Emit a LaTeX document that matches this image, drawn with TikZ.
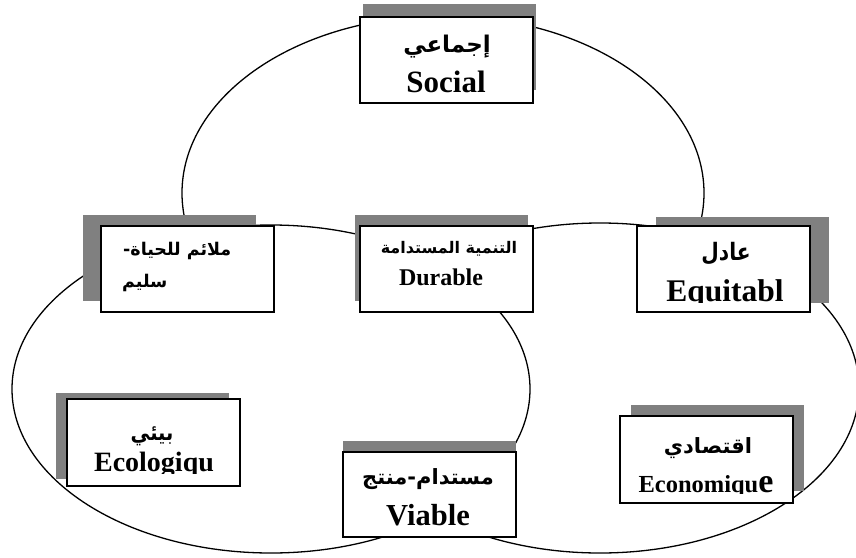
\documentclass[tikz,border=0pt]{standalone}
\usepackage{fontspec}
\setmainfont{Liberation Serif}
\newfontfamily\arabicfont[Script=Arabic]{DejaVu Sans}
\TeXXeTstate=1
\definecolor{shadowgray}{HTML}{808080}
\begin{document}
\begin{tikzpicture}[x=1pt,y=-1pt,
  ell/.style={draw=black, fill=white, line width=1.3pt},
  shadowbox/.style={fill=shadowgray, draw=none, inner sep=0pt, outer sep=0pt, minimum width=173pt, minimum height=86pt, anchor=north west},
  labelbox/.style={draw=black, fill=white, line width=1.5pt, inner sep=0pt, outer sep=0pt, minimum width=173pt, minimum height=86pt, anchor=north west},
  ar/.style={inner sep=0pt, font=\arabicfont\bfseries\fontsize{#1}{#1}\selectfont},
  lat/.style={inner sep=0pt, anchor=base, font=\bfseries\fontsize{#1}{#1}\selectfont}
]
\clip (0,0) rectangle (856,557);
% ellipses (drawn back to front, white filled)
\draw[ell] (443,193) ellipse [x radius=261, y radius=177];
\draw[ell] (600,388) ellipse [x radius=259, y radius=165];
\draw[ell] (271,389) ellipse [x radius=259, y radius=164];

% shadows
\node[shadowbox] (socialsh) at (363,4) {};
\node[shadowbox] (malaemsh) at (83,215) {};
\node[shadowbox] (durablesh) at (355,215) {};
\node[shadowbox] (equitsh) at (656,217) {};
\node[shadowbox] (ecolsh) at (56,393) {};
\node[shadowbox] (viablesh) at (343,441) {};
\node[shadowbox] (econsh) at (631,405) {};

% boxes
\node[labelbox] (social) at (360,17) {};
\node[labelbox] (malaem) at (101,226) {};
\node[labelbox] (durable) at (360,226) {};
\node[labelbox] (equit) at (637,226) {};
\node[labelbox, minimum height=87pt] (ecol) at (67,399) {};
\node[labelbox, minimum height=85pt] (viable) at (343,452) {};
\node[labelbox, minimum height=87pt] (econ) at (620,416) {};

% texts
\begin{scope}
\clip ([shift={(1,1)}]social.north west) rectangle ([shift={(-1,-9)}]social.south east);
\node[ar=23] (socialar) at (447,47) {\beginR إجماعي\endR};
\node[lat=31] (socialla) at (446,92) {Social};
\end{scope}

\node[ar=17.5, anchor=west] (malaem1) at (123,251) {\beginR ملائم للحياة-\endR};
\node[ar=17.5, anchor=west] (malaem2) at (122,283) {\beginR سليم\endR};

\node[ar=16] (durablear) at (449,249) {\beginR التنمية المستدامة\endR};
\node[lat=24] (durablela) at (441,285) {Durable};

\begin{scope}
\clip ([shift={(1,1)}]equit.north west) rectangle ([shift={(-1,-10)}]equit.south east);
\node[ar=24] (equitar) at (726,254) {\scalebox{0.84}[1]{\beginR عادل\endR}};
\node[lat=31.5] (equitla) at (725,301) {Equitabl};
\end{scope}

\begin{scope}
\clip ([shift={(1,1)}]ecol.north west) rectangle ([shift={(-1,-13)}]ecol.south east);
\node[ar=22] (ecolar) at (152,436) {\scalebox{0.88}[1]{\beginR بيئي\endR}};
\node[lat=28] (ecolla) at (154,471) {Ecologiqu};
\end{scope}

\node[ar=21] (viablear) at (428,479) {\beginR مستدام-منتج\endR};
\node[lat=30.5] (viablela) at (428,525) {Viable};

\begin{scope}
\clip ([shift={(1,1)}]econ.north west) rectangle ([shift={(-1,-10)}]econ.south east);
\node[ar=21] (econar) at (708,448) {\beginR اقتصادي\endR};
\node[lat=24.5] (econla) at (706,492) {Economiqu{\fontsize{34}{34}\selectfont e}};
\end{scope}
\end{tikzpicture}
\end{document}
